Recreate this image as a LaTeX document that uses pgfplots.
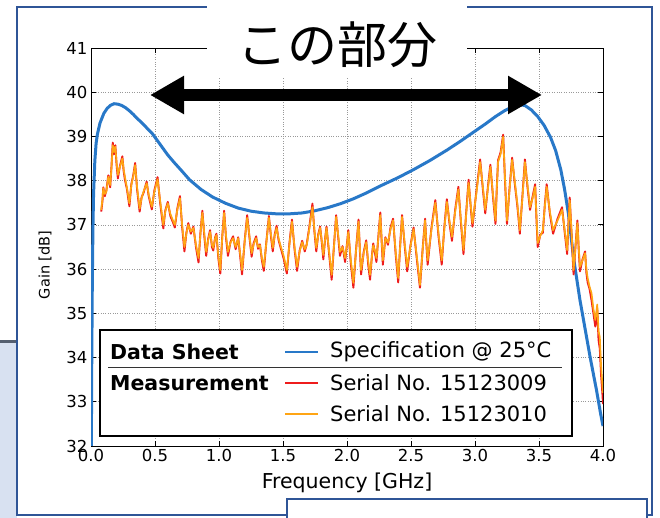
\documentclass[border=0pt]{standalone}
\usepackage{pgfplots}
\pgfplotsset{compat=1.18}
\usepackage{pgfplotstable}
\usepackage{fontspec}
\setmainfont{DejaVu Sans}
\newfontfamily\jpfont{Noto Sans CJK JP}
\usetikzlibrary{arrows.meta}

\definecolor{specblue}{RGB}{40,120,200}
\definecolor{measred}{RGB}{238,28,28}
\definecolor{measorange}{RGB}{255,165,20}
\definecolor{frameblue}{RGB}{47,85,151}
\definecolor{paleblue}{RGB}{216,225,241}
\definecolor{slidegray}{RGB}{85,95,112}

% data sheet curve
\pgfplotstableread{
x g
0.000 30.00
0.005 33.50
0.010 35.60
0.015 36.90
0.020 37.70
0.030 38.45
0.040 38.85
0.050 39.05
0.070 39.30
0.100 39.52
0.125 39.63
0.150 39.70
0.180 39.74
0.210 39.73
0.240 39.70
0.270 39.65
0.300 39.58
0.330 39.50
0.360 39.41
0.400 39.30
0.440 39.18
0.480 39.06
0.520 38.90
0.560 38.74
0.600 38.58
0.650 38.41
0.700 38.25
0.770 38.02
0.860 37.80
0.950 37.63
1.050 37.49
1.150 37.38
1.250 37.31
1.350 37.27
1.450 37.25
1.550 37.25
1.650 37.27
1.750 37.32
1.850 37.39
1.950 37.48
2.050 37.59
2.150 37.72
2.260 37.88
2.400 38.07
2.520 38.25
2.650 38.46
2.780 38.69
2.880 38.88
2.980 39.08
3.080 39.28
3.160 39.45
3.230 39.58
3.290 39.67
3.340 39.72
3.390 39.70
3.440 39.60
3.490 39.45
3.540 39.25
3.590 38.98
3.630 38.68
3.670 38.25
3.700 37.80
3.730 37.25
3.770 36.25
3.820 35.30
3.860 34.65
3.900 34.00
3.950 33.25
3.980 32.75
4.000 32.45
}\spec

% measured units: r = 15123009, o = 15123010
\pgfplotstableread{
x r o
0.080 37.30 37.34
0.090 37.55 37.60
0.096 37.85 37.83
0.108 37.65 37.70
0.120 37.78 37.75
0.135 38.12 38.09
0.150 37.85 37.90
0.160 38.32 38.30
0.170 38.86 38.80
0.180 38.60 38.65
0.190 38.80 38.77
0.200 38.35 38.40
0.210 38.05 38.13
0.225 38.32 38.30
0.245 38.55 38.50
0.255 38.22 38.25
0.265 38.02 38.09
0.280 37.82 37.85
0.300 37.42 37.49
0.315 37.92 37.90
0.330 38.12 38.10
0.345 38.40 38.35
0.360 37.80 37.85
0.380 37.30 37.37
0.395 37.62 37.60
0.410 37.72 37.75
0.435 37.98 37.94
0.450 37.66 37.70
0.475 37.35 37.41
0.495 37.78 37.75
0.520 38.08 38.03
0.540 37.50 37.55
0.565 36.92 37.00
0.580 37.32 37.30
0.600 37.52 37.49
0.620 37.20 37.25
0.640 37.06 37.10
0.655 36.94 37.00
0.675 37.38 37.35
0.695 37.65 37.60
0.712 36.95 37.00
0.730 36.40 36.50
0.745 36.82 36.80
0.760 37.04 37.00
0.780 36.80 36.85
0.800 36.96 36.93
0.820 36.50 36.55
0.840 36.15 36.25
0.855 36.82 36.80
0.870 37.32 37.27
0.885 36.75 36.80
0.900 36.30 36.39
0.915 36.68 36.65
0.930 36.88 36.84
0.945 36.50 36.55
0.955 36.42 36.48
0.970 36.72 36.70
0.980 36.80 36.77
0.995 36.24 36.30
1.010 35.90 35.98
1.025 36.72 36.70
1.040 37.32 37.27
1.055 36.70 36.75
1.070 36.30 36.39
1.090 36.62 36.60
1.110 36.74 36.70
1.130 36.45 36.50
1.150 36.72 36.70
1.165 36.30 36.35
1.180 35.88 35.98
1.200 36.62 36.60
1.220 37.22 37.16
1.240 36.66 36.70
1.255 36.28 36.36
1.270 36.58 36.55
1.290 36.74 36.70
1.305 36.46 36.50
1.320 36.56 36.54
1.335 36.20 36.25
1.350 35.96 36.05
1.370 36.62 36.60
1.390 37.20 37.16
1.405 36.76 36.80
1.420 36.40 36.48
1.435 36.78 36.75
1.450 36.98 36.93
1.465 36.66 36.70
1.480 36.50 36.54
1.505 36.24 36.30
1.530 35.90 35.98
1.550 36.58 36.55
1.570 37.12 37.07
1.590 36.45 36.50
1.610 35.96 36.05
1.630 36.42 36.40
1.650 36.64 36.61
1.670 36.40 36.45
1.685 36.56 36.54
1.705 36.94 36.90
1.730 37.48 37.40
1.745 36.86 36.90
1.760 36.40 36.48
1.775 36.78 36.75
1.790 36.96 36.93
1.805 36.55 36.60
1.815 36.22 36.32
1.830 36.72 36.70
1.840 36.96 36.93
1.860 36.35 36.40
1.880 35.76 35.87
1.898 36.52 36.50
1.915 37.22 37.18
1.930 36.76 36.80
1.945 36.30 36.39
1.965 36.52 36.50
1.985 36.16 36.25
2.000 36.58 36.55
2.010 36.88 36.84
2.030 36.12 36.20
2.050 35.58 35.69
2.070 36.42 36.40
2.090 37.12 37.07
2.100 36.45 36.50
2.110 35.88 35.98
2.130 36.38 36.35
2.150 36.65 36.61
2.165 36.12 36.20
2.180 35.76 35.87
2.195 36.32 36.30
2.205 36.58 36.54
2.220 36.34 36.40
2.230 36.16 36.25
2.245 36.74 36.70
2.260 37.28 37.22
2.270 36.66 36.70
2.280 36.10 36.20
2.300 36.72 36.70
2.320 36.55 36.60
2.340 36.94 36.90
2.360 37.14 37.10
2.380 36.34 36.40
2.400 35.70 35.80
2.415 36.52 36.50
2.430 37.22 37.18
2.450 36.55 36.60
2.470 35.95 36.05
2.495 36.52 36.50
2.520 36.94 36.90
2.545 36.24 36.30
2.570 35.58 35.64
2.590 36.42 36.40
2.610 37.14 37.10
2.620 36.56 36.60
2.630 36.10 36.20
2.660 36.94 36.90
2.690 37.56 37.50
2.715 36.74 36.80
2.740 36.10 36.20
2.760 36.94 36.90
2.780 37.58 37.52
2.800 37.05 37.10
2.820 36.64 36.73
2.845 37.34 37.30
2.870 37.86 37.80
2.890 37.05 37.10
2.910 36.34 36.43
2.930 37.24 37.20
2.950 38.02 37.95
2.965 37.45 37.50
2.980 36.96 37.04
3.010 37.74 37.70
3.040 38.48 38.42
3.060 37.85 37.90
3.080 37.26 37.34
3.100 37.84 37.80
3.120 38.36 38.31
3.140 37.65 37.70
3.160 37.02 37.10
3.170 37.82 37.80
3.180 38.46 38.42
3.200 38.64 38.60
3.220 39.04 38.99
3.235 37.95 38.00
3.250 37.02 37.10
3.270 37.84 37.80
3.290 38.52 38.47
3.310 37.95 38.00
3.330 37.45 37.50
3.340 37.15 37.20
3.350 36.80 36.88
3.370 37.64 37.60
3.390 38.48 38.42
3.410 37.85 37.90
3.430 37.34 37.40
3.450 37.64 37.60
3.470 37.92 37.86
3.480 37.15 37.20
3.490 36.50 36.59
3.510 36.78 36.75
3.530 36.82 36.88
3.545 37.44 37.40
3.560 37.92 37.86
3.585 37.25 37.30
3.610 36.80 36.88
3.645 37.14 37.10
3.680 37.40 37.34
3.700 36.85 36.90
3.720 36.34 36.43
3.730 37.04 37.00
3.740 37.62 37.56
3.755 36.75 36.80
3.770 35.88 35.98
3.785 36.52 36.50
3.800 37.10 37.04
3.810 36.45 36.50
3.820 35.95 36.05
3.840 36.22 36.20
3.860 36.40 36.36
3.870 35.92 36.00
3.880 35.70 35.80
3.895 35.55 35.60
3.910 35.30 35.46
3.925 35.00 35.10
3.940 34.70 34.85
3.955 35.10 35.20
3.965 34.40 34.60
3.975 34.20 34.46
3.985 33.60 33.80
3.995 33.20 33.40
4.000 32.95 33.20
}\meas

\begin{document}
\begin{tikzpicture}[x=1pt,y=1pt]
\useasboundingbox (0pt,0pt) rectangle (660pt,518pt);
% slide background bits
\fill[paleblue] (0pt,0pt) rectangle (17pt,176pt);
\draw[line width=3pt, slidegray] (0pt,176pt) -- (17pt,176pt);
\draw[line width=2pt, frameblue] (17pt,3pt) rectangle (652pt,511pt);

\begin{axis}[
    at={(91pt,72pt)}, anchor=south west,
    scale only axis, width=512pt, height=398pt,
    xmin=0, xmax=4, ymin=32, ymax=41,
    xtick={0,0.5,...,4}, ytick={32,33,...,41},
    grid=major,
    major grid style={black!40, dotted, line width=0.7pt},
    axis line style={line width=0.9pt},
    tick style={black, line width=0.8pt},
    major tick length=5pt,
    /pgf/number format/assume math mode=true,
    tick label style={font=\fontsize{16.5}{16.5}\selectfont},
    x tick label style={/pgf/number format/.cd, fixed, fixed zerofill, precision=1, /tikz/.cd},
    xlabel={Frequency [GHz]},
    ylabel={Gain [dB]},
    xlabel style={font=\fontsize{20.5}{20.5}\selectfont, at={(axis description cs:0.5,0)}, anchor=center, yshift=-37pt},
    ylabel style={font=\fontsize{14.5}{14.5}\selectfont, at={(axis description cs:0,0.455)}, anchor=center, yshift=46pt},
]
\addplot[specblue, line width=3pt] table[x=x, y=g] {\spec};
\addplot[measred, line width=1.9pt, line join=round] table[x=x, y=r] {\meas};
\addplot[measorange, line width=1.7pt, line join=round] table[x=x, y=o] {\meas};
\end{axis}

% legend
\filldraw[fill=white, draw=black, line width=1.2pt] (100pt,82pt) rectangle (572pt,188pt);
\draw[black!80, line width=1pt] (108pt,150pt) -- (562pt,150pt);
\node[anchor=west, font=\fontsize{20.5}{20.5}\selectfont\bfseries, inner sep=0pt] at (110pt,166pt) {Data Sheet};
\node[anchor=west, font=\fontsize{20.5}{20.5}\selectfont\bfseries, inner sep=0pt] at (110pt,135pt) {Measurement};
\draw[specblue, line width=1.6pt] (285pt,166pt) -- (318pt,166pt);
\draw[measred, line width=1.6pt] (285pt,135pt) -- (318pt,135pt);
\draw[measorange, line width=1.6pt] (285pt,104pt) -- (318pt,104pt);
\node[anchor=west, font=\fontsize{21}{21}\selectfont, inner sep=0pt] at (330pt,166pt) {Specification @ 25°C};
\node[anchor=west, font=\fontsize{21}{21}\selectfont, inner sep=0pt] at (330pt,135pt) {Serial No. 15123009};
\node[anchor=west, font=\fontsize{21}{21}\selectfont, inner sep=0pt] at (330pt,104pt) {Serial No. 15123010};

% callout
\fill[white] (207pt,440pt) rectangle (467pt,520pt);
\node[font=\jpfont\fontsize{50}{50}\selectfont, inner sep=0pt] at (337pt,473pt) {この部分};
\draw[line width=12pt, {Triangle[length=34pt,width=36pt]}-{Triangle[length=34pt,width=36pt]}] (150pt,423pt) -- (542pt,423pt);

% lower slide box
\filldraw[fill=white, draw=frameblue, line width=2pt] (287pt,19pt) rectangle (647pt,-10pt);
\end{tikzpicture}
\end{document}
